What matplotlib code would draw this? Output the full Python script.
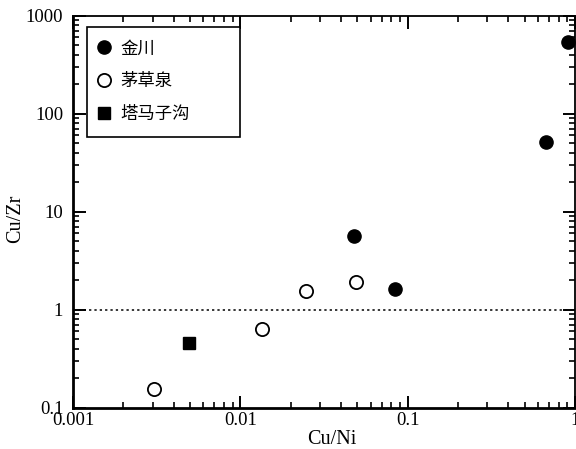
import matplotlib
matplotlib.use('Agg')
import matplotlib.pyplot as plt
from matplotlib.ticker import FuncFormatter, LogLocator

plt.rcParams['font.family'] = ['Liberation Serif', 'Noto Sans CJK SC']

# data
jinchuan_x = [0.0478, 0.0846, 0.674, 0.91]
jinchuan_y = [5.6, 1.61, 51.8, 543]
maocaoquan_x = [0.00303, 0.0135, 0.0248, 0.0492]
maocaoquan_y = [0.154, 0.635, 1.54, 1.9]
tamazigou_x = [0.00492]
tamazigou_y = [0.46]
labels = ['金川', '茅草泉', '塔马子沟']

fig = plt.figure(figsize=(5.76, 4.49), dpi=100)
ax = fig.add_axes([0.1267, 0.092, 0.8715, 0.873])

ax.axhline(1, color='black', linestyle=(0, (1.5, 2)), linewidth=1.1, zorder=1)

ax.plot(jinchuan_x, jinchuan_y, 'o', color='black', markersize=9.5,
        label=labels[0], clip_on=False, zorder=3)
ax.plot(maocaoquan_x, maocaoquan_y, 'o', markerfacecolor='white',
        markeredgecolor='black', markeredgewidth=1.3, markersize=9.5,
        label=labels[1], zorder=3)
ax.plot(tamazigou_x, tamazigou_y, 's', color='black', markersize=9,
        label=labels[2], zorder=3)

ax.set_xscale('log')
ax.set_yscale('log')
ax.set_xlim(0.001, 1)
ax.set_ylim(0.1, 1000)

fmt = FuncFormatter(lambda v, p: '%g' % v)
ax.xaxis.set_major_formatter(fmt)
ax.yaxis.set_major_formatter(fmt)
ax.xaxis.set_minor_locator(LogLocator(base=10, subs=range(2, 10)))
ax.yaxis.set_minor_locator(LogLocator(base=10, subs=range(2, 10)))
ax.xaxis.set_minor_formatter(plt.NullFormatter())
ax.yaxis.set_minor_formatter(plt.NullFormatter())

ax.tick_params(which='both', direction='in', top=True, right=True,
               colors='black', labelsize=13.5)
ax.tick_params(which='major', length=9, width=1.4)
ax.tick_params(axis='x', which='major', pad=3)
ax.tick_params(axis='y', which='major', pad=7)
ax.tick_params(which='minor', length=4.5, width=1.2)

for side in ['left', 'bottom']:
    ax.spines[side].set_linewidth(2)
for side in ['top', 'right']:
    ax.spines[side].set_linewidth(1.3)

ax.set_xlabel('Cu/Ni', fontsize=14.5)
ax.set_ylabel('Cu/Zr', fontsize=14.5)
ax.xaxis.set_label_coords(0.516, -0.058)
ax.yaxis.set_label_coords(-0.095, 0.481)

leg = ax.legend(loc='upper left', bbox_to_anchor=(0.028, 0.70, 0.305, 0.27),
                mode='expand', frameon=True, fancybox=False, framealpha=1,
                edgecolor='black', fontsize=12.5, labelspacing=0.95,
                handletextpad=0.8, handlelength=0.3, borderpad=0.8,
                borderaxespad=0)
leg.get_frame().set_linewidth(1.2)

fig.savefig('out.png', dpi=100)
